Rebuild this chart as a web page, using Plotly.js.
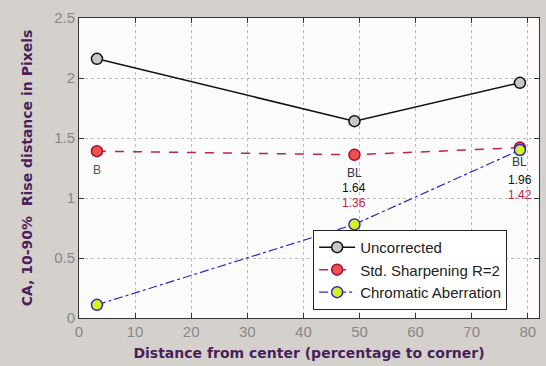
<!DOCTYPE html>
<html><head><meta charset="utf-8">
<script src="https://cdn.plot.ly/plotly-3.0.1.min.js"></script>
<style>html,body{margin:0;padding:0;background:#d4d1cc;}</style>
</head><body>
<div id="chart" style="width:546px;height:366px;"></div>
<script>
const xDist = [3.2, 49.1, 78.6];
const uncorrected = [2.16, 1.64, 1.96];
const sharpening = [1.39, 1.36, 1.42];
const chromatic = [0.11, 0.78, 1.40];
const seriesNames = ["Uncorrected", "Std. Sharpening R=2", "Chromatic Aberration"];
const xTicks = [0, 10, 20, 30, 40, 50, 60, 70, 80];
const yTicks = [0, 0.5, 1, 1.5, 2, 2.5];
const yTickText = ["0", "0.5", "1", "1.5", "2", "2.5"];
const labelTop = ["B", "BL", "BL"];

const traces = [
  {x: xDist, y: uncorrected, name: seriesNames[0], mode: "lines+markers",
   line: {color: "#111", width: 1.5, dash: "solid"},
   marker: {size: 11, color: "#c8c8c8", line: {color: "#111", width: 1.5}}},
  {x: xDist, y: sharpening, name: seriesNames[1], mode: "lines+markers",
   line: {color: "#c0234a", width: 1.5, dash: "dash"},
   marker: {size: 11, color: "#f05050", line: {color: "#a01030", width: 1.5}}},
  {x: xDist, y: chromatic, name: seriesNames[2], mode: "lines+markers",
   line: {color: "#2a2ad0", width: 1.2, dash: "dashdot"},
   marker: {size: 11, color: "#d8f020", line: {color: "#2a2ad0", width: 1.5}}}
];

const annotations = [];
const gray = "#555";
const f = "Arial, Liberation Sans";
annotations.push({x: xDist[0], y: sharpening[0], text: labelTop[0], showarrow: false, yshift: -19, font: {size: 12, color: gray, family: f}});
const shifts = [null, [-18, -33, -48], [-14, -32, -47]];
for (let i = 1; i < 3; i++) {
  annotations.push({x: xDist[i], y: sharpening[i], text: labelTop[i], showarrow: false, yshift: shifts[i][0], font: {size: 12, color: "#333", family: f}});
  annotations.push({x: xDist[i], y: sharpening[i], text: uncorrected[i].toFixed(2), showarrow: false, yshift: shifts[i][1], font: {size: 12, color: "#111", family: f}});
  annotations.push({x: xDist[i], y: sharpening[i], text: sharpening[i].toFixed(2), showarrow: false, yshift: shifts[i][2], font: {size: 12, color: "#c0234a", family: f}});
}

const layout = {
  width: 546, height: 366,
  margin: {l: 79, r: 7, t: 18, b: 48},
  paper_bgcolor: "#d4d1cc",
  plot_bgcolor: "#fbfbfb",
  font: {family: f, size: 13, color: "#666"},
  showlegend: true,
  legend: {x: 0.509, y: 0.027, xanchor: "left", yanchor: "bottom",
    bgcolor: "#ffffff", bordercolor: "#222", borderwidth: 1,
    font: {size: 15, color: "#222", family: f}, tracegroupgap: 0, itemwidth: 36},
  xaxis: {range: [0, 82], tickvals: xTicks, ticks: "inside", ticklen: 5, tickcolor: "#333",
    mirror: "ticks", showline: true, linecolor: "#333", linewidth: 1,
    showgrid: true, gridcolor: "#bbb", griddash: "dot", zeroline: false,
    tickfont: {size: 15, color: "#888"},
    title: {text: "<b>Distance from center (percentage to corner)</b>", font: {size: 14, color: "#4a1f5a", family: "DejaVu Sans"}, standoff: 9}},
  yaxis: {range: [0, 2.5], tickvals: yTicks, ticktext: yTickText, ticks: "inside", ticklen: 5, tickcolor: "#333",
    mirror: "ticks", showline: true, linecolor: "#333", linewidth: 1,
    showgrid: true, gridcolor: "#bbb", griddash: "dot", zeroline: false,
    tickfont: {size: 15, color: "#888"},
    title: {text: "<b>CA, 10-90%  Rise distance in Pixels</b>", font: {size: 14, color: "#4a1f5a", family: "DejaVu Sans"}, standoff: 18}},
  annotations: annotations
};

Plotly.newPlot("chart", traces, layout, {displayModeBar: false, staticPlot: true});
</script>
</body></html>
